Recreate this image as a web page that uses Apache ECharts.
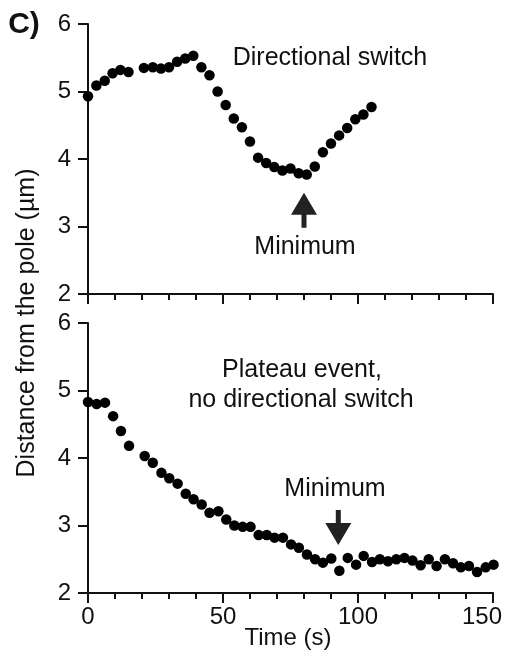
<!DOCTYPE html>
<html>
<head>
<meta charset="utf-8">
<script src="https://cdn.jsdelivr.net/npm/echarts@6/dist/echarts.min.js"></script>
<style>
  html, body { margin: 0; padding: 0; background: #fff; }
  #chart { width: 507px; height: 657px; }
</style>
</head>
<body>
<div id="chart"></div>
<script>
// top panel: directional switch
var switchTime = [0, 3.1, 6.2, 9.1, 12, 15, 20.7, 24, 27, 30, 33, 36, 39, 42, 45, 48, 51, 54, 57, 60,
    63, 66, 69, 72, 75, 78, 81, 84, 87, 90, 93, 96, 99, 102, 105];
var switchDist = [4.93, 5.09, 5.16, 5.27, 5.32, 5.29, 5.35, 5.36, 5.34, 5.36, 5.44, 5.49, 5.53, 5.36, 5.24,
    5.00, 4.80, 4.60, 4.47, 4.26, 4.02, 3.94, 3.88, 3.83, 3.86, 3.79, 3.77, 3.89, 4.10, 4.23,
    4.35, 4.46, 4.59, 4.66, 4.77];

// bottom panel: plateau event
var plateauTime = [0, 3.2, 6.3, 9.3, 12.2, 15.2, 21, 24, 27.2, 30.1, 33.2, 36.2, 39.1, 42.1, 45, 48.3,
    51.2, 54.2, 57.3, 60.2, 63.2, 66.2, 69.1, 72.2, 75.2, 78.1, 81.1, 84.1, 87, 90.1, 93.1, 96.2,
    99.3, 102.1, 105.2, 108.1, 111.1, 114.2, 117.2, 120.2, 123.2, 126.2, 129.1, 132.2, 135.2,
    138.1, 141.1, 144.1, 147.3, 150.2];
var plateauDist = [4.83, 4.80, 4.82, 4.62, 4.40, 4.18, 4.03, 3.93, 3.78, 3.70, 3.62, 3.47, 3.39, 3.31,
    3.19, 3.21, 3.09, 3.00, 2.98, 2.98, 2.86, 2.86, 2.82, 2.82, 2.72, 2.67, 2.57, 2.50, 2.45, 2.51,
    2.33, 2.52, 2.42, 2.55, 2.46, 2.50, 2.47, 2.50, 2.52, 2.48, 2.41, 2.50, 2.40, 2.50, 2.44,
    2.38, 2.40, 2.31, 2.38, 2.42];

// arrow positions (data coords)
var switchMin = [80, 3.24];
var plateauMin = [92.7, 2.97];

var font = 'Liberation Sans, Arial, sans-serif';
var ink = '#111';
var arrowUp = 'path://M13,0 L26,22 L15.5,22 L15.5,35 L10.5,35 L10.5,22 L0,22 Z';
var arrowDown = 'path://M10.5,0 L15.5,0 L15.5,13 L26,13 L13,35 L0,13 L10.5,13 Z';

function zip(a, b) {
    var out = [];
    for (var i = 0; i < a.length; i++) out.push([a[i], b[i]]);
    return out;
}

function xAxisFor(idx, showLabels) {
    return {
        type: 'value', gridIndex: idx, min: 0, max: 150, interval: 50,
        axisLine: { show: true, onZero: false, lineStyle: { color: ink, width: 2 } },
        axisTick: { show: true, length: 10, lineStyle: { color: ink, width: 2 } },
        minorTick: { show: true, splitNumber: 5, length: 6, lineStyle: { color: ink, width: 2 } },
        splitLine: { show: false },
        minorSplitLine: { show: false },
        axisLabel: {
            show: showLabels, color: ink, fontSize: 24, fontFamily: font, margin: 12,
            // last label sits a bit left of its tick, like the original
            formatter: function (v) { return v === 150 ? '{last|' + v + '}' : String(v); },
            rich: { last: { color: ink, fontSize: 24, fontFamily: font, padding: [0, 22, 0, 0] } }
        }
    };
}

function yAxisFor(idx) {
    return {
        type: 'value', gridIndex: idx, min: 2, max: 6, interval: 1,
        axisLine: { show: true, onZero: false, lineStyle: { color: ink, width: 2 } },
        axisTick: { show: true, length: 10, lineStyle: { color: ink, width: 2 } },
        splitLine: { show: false },
        axisLabel: { color: ink, fontSize: 24, fontFamily: font, margin: 17 }
    };
}

function textEl(str, x, y, size, weight, rot) {
    return {
        type: 'text', x: x, y: y, rotation: rot || 0,
        style: {
            text: str, fill: ink, font: (weight || 'normal') + ' ' + size + 'px ' + font,
            textAlign: 'center', textVerticalAlign: 'middle'
        }
    };
}

const myChart = echarts.init(document.getElementById('chart'));

const option = {
    animation: false,
    backgroundColor: '#fff',
    grid: [
        { left: 88, top: 24, width: 405, height: 270, containLabel: false, outerBoundsMode: 'none' },
        { left: 88, top: 323, width: 405, height: 270, containLabel: false, outerBoundsMode: 'none' }
    ],
    xAxis: [xAxisFor(0, false), xAxisFor(1, true)],
    yAxis: [yAxisFor(0), yAxisFor(1)],
    series: [
        {
            type: 'scatter', xAxisIndex: 0, yAxisIndex: 0, clip: false,
            symbolSize: 10.5, itemStyle: { color: '#000', opacity: 1 },
            data: zip(switchTime, switchDist),
            markPoint: {
                symbol: arrowUp, symbolSize: [26, 35], symbolKeepAspect: false,
                itemStyle: { color: '#222' }, label: { show: false },
                data: [{ coord: switchMin }]
            }
        },
        {
            type: 'scatter', xAxisIndex: 1, yAxisIndex: 1, clip: false,
            symbolSize: 10.5, itemStyle: { color: '#000', opacity: 1 },
            data: zip(plateauTime, plateauDist),
            markPoint: {
                symbol: arrowDown, symbolSize: [26, 35], symbolKeepAspect: false,
                itemStyle: { color: '#222' }, label: { show: false },
                data: [{ coord: plateauMin }]
            }
        }
    ],
    graphic: [
        textEl('C)', 24, 25, 30, 'bold'),
        textEl('Directional switch', 330, 58, 25),
        textEl('Minimum', 305, 247, 25),
        textEl('Plateau event,', 302, 370, 25),
        textEl('no directional switch', 301, 400, 25),
        textEl('Minimum', 335, 489, 25),
        textEl('Time (s)', 288, 638, 24),
        textEl('Distance from the pole (\u00b5m)', 27, 323, 25, 'normal', Math.PI / 2)
    ]
};
myChart.setOption(option);
</script>
</body>
</html>
